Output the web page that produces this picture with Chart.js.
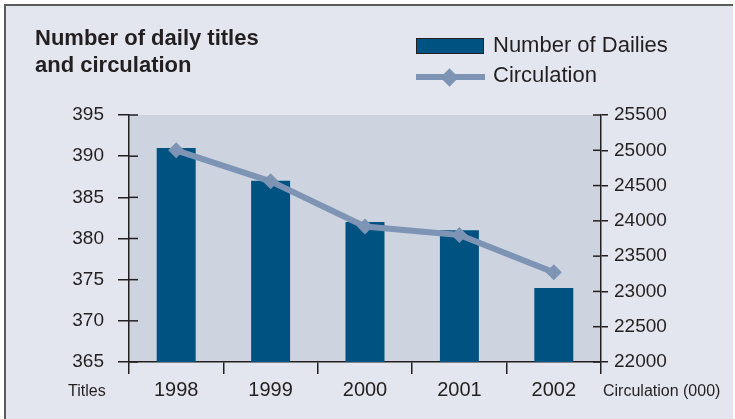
<!DOCTYPE html>
<html>
<head>
<meta charset="utf-8">
<script src="https://cdn.jsdelivr.net/npm/chart.js@4"></script>
<style>
html,body{margin:0;padding:0;background:#ffffff;}
#wrap{position:relative;width:735px;height:419px;overflow:hidden;font-family:"Liberation Sans",Arial,sans-serif;color:#231f20;background:#ffffff;}
#frame{position:absolute;left:4px;top:4px;width:727px;height:440px;background:#e3e6ee;border-top:2px solid #5b5b5b;border-left:2px solid #5b5b5b;}
#c{position:absolute;left:0;top:0;}
.abs{position:absolute;white-space:nowrap;}
#title{left:35px;top:24px;font-weight:bold;font-size:22px;line-height:27px;}
.legtxt{font-size:22px;line-height:22px;}
#box{left:416px;top:38px;width:66px;height:14px;background:#005380;border:1.5px solid #231f20;}
#lline{left:416px;top:74px;width:69px;height:6px;background:#7d94b4;}
#ldia{left:443px;top:71px;width:13px;height:13px;background:#7d94b4;transform:rotate(45deg);}
.side{font-size:16px;line-height:16px;}
</style>
</head>
<body>
<div id="wrap">
  <div id="frame"></div>
  <canvas id="c" width="735" height="419"></canvas>
  <div id="title" class="abs">Number of daily titles<br>and circulation</div>
  <div id="box" class="abs"></div>
  <div class="abs legtxt" style="left:493px;top:34px;">Number of Dailies</div>
  <div id="lline" class="abs"></div>
  <div id="ldia" class="abs"></div>
  <div class="abs legtxt" style="left:493px;top:64px;">Circulation</div>
  <div class="abs side" style="left:68px;top:383px;">Titles</div>
  <div class="abs side" style="left:603px;top:383px;">Circulation (000)</div>
</div>
<script>
const categories = ['1998', '1999', '2000', '2001', '2002'];
const dailies = [391, 387, 382, 381, 374];
const circulation = [25000, 24560, 23920, 23800, 23270];
const titleTicks = [365, 370, 375, 380, 385, 390, 395];
const circTicks = [22000, 22500, 23000, 23500, 24000, 24500, 25000, 25500];

const INK = '#231f20';
const FONT = '"Liberation Sans", Arial, sans-serif';

const plotBg = {
  id: 'plotBg',
  beforeDraw(chart) {
    const a = chart.chartArea, ctx = chart.ctx;
    ctx.save();
    ctx.fillStyle = '#cdd3df';
    ctx.fillRect(a.left, a.top, a.right - a.left, a.bottom - a.top);
    ctx.restore();
  }
};

const innerTicks = {
  id: 'innerTicks',
  afterDraw(chart) {
    const ctx = chart.ctx, y = chart.scales.y, y1 = chart.scales.y1;
    ctx.save();
    ctx.strokeStyle = INK;
    ctx.lineWidth = 1.5;
    y.ticks.forEach(t => {
      const p = y.getPixelForValue(t.value);
      ctx.beginPath(); ctx.moveTo(y.right, p); ctx.lineTo(y.right + 9, p); ctx.stroke();
    });
    y1.ticks.forEach(t => {
      const p = y1.getPixelForValue(t.value);
      ctx.beginPath(); ctx.moveTo(y1.left, p); ctx.lineTo(y1.left - 8, p); ctx.stroke();
    });
    ctx.restore();
  }
};

new Chart(document.getElementById('c'), {
  type: 'bar',
  data: {
    labels: categories,
    datasets: [
      {
        type: 'line',
        label: 'Circulation',
        data: circulation,
        yAxisID: 'y1',
        order: 0,
        borderColor: '#7d94b4',
        borderWidth: 6,
        tension: 0,
        pointStyle: 'rectRot',
        pointRadius: 8,
        pointBackgroundColor: '#7d94b4',
        pointBorderColor: '#7d94b4',
        pointBorderWidth: 0
      },
      {
        type: 'bar',
        label: 'Number of Dailies',
        data: dailies,
        yAxisID: 'y',
        order: 1,
        backgroundColor: '#005380',
        barPercentage: 0.413,
        categoryPercentage: 1
      }
    ]
  },
  options: {
    responsive: false,
    animation: false,
    devicePixelRatio: 1,
    layout: { padding: { top: 115, left: 0, right: 0, bottom: 0 } },
    plugins: { legend: { display: false }, tooltip: { enabled: false }, title: { display: false } },
    scales: {
      x: {
        offset: true,
        grid: { offset: true, drawOnChartArea: false, drawTicks: true, tickLength: 12, color: INK, lineWidth: 1.5 },
        border: { display: true, color: INK, width: 1.5 },
        ticks: { color: INK, font: { family: FONT, size: 20 }, padding: 4 },
        afterFit: s => { s.height = 57; }
      },
      y: {
        position: 'left',
        min: titleTicks[0],
        max: titleTicks[titleTicks.length - 1],
        afterBuildTicks: s => { s.ticks = titleTicks.map(v => ({ value: v })); },
        grid: { drawOnChartArea: false, drawTicks: true, tickLength: 11, color: INK, lineWidth: 1.5 },
        border: { display: true, color: INK, width: 1.5 },
        ticks: { color: INK, font: { family: FONT, size: 19 }, padding: 14 },
        afterFit: s => { s.width = 129; }
      },
      y1: {
        position: 'right',
        min: circTicks[0],
        max: circTicks[circTicks.length - 1],
        afterBuildTicks: s => { s.ticks = circTicks.map(v => ({ value: v })); },
        grid: { drawOnChartArea: false, drawTicks: true, tickLength: 7, color: INK, lineWidth: 1.5 },
        border: { display: true, color: INK, width: 1.5 },
        ticks: { color: INK, font: { family: FONT, size: 19 }, padding: 6, callback: v => String(v) },
        afterFit: s => { s.width = 134; }
      }
    }
  },
  plugins: [plotBg, innerTicks]
});
</script>
</body>
</html>
